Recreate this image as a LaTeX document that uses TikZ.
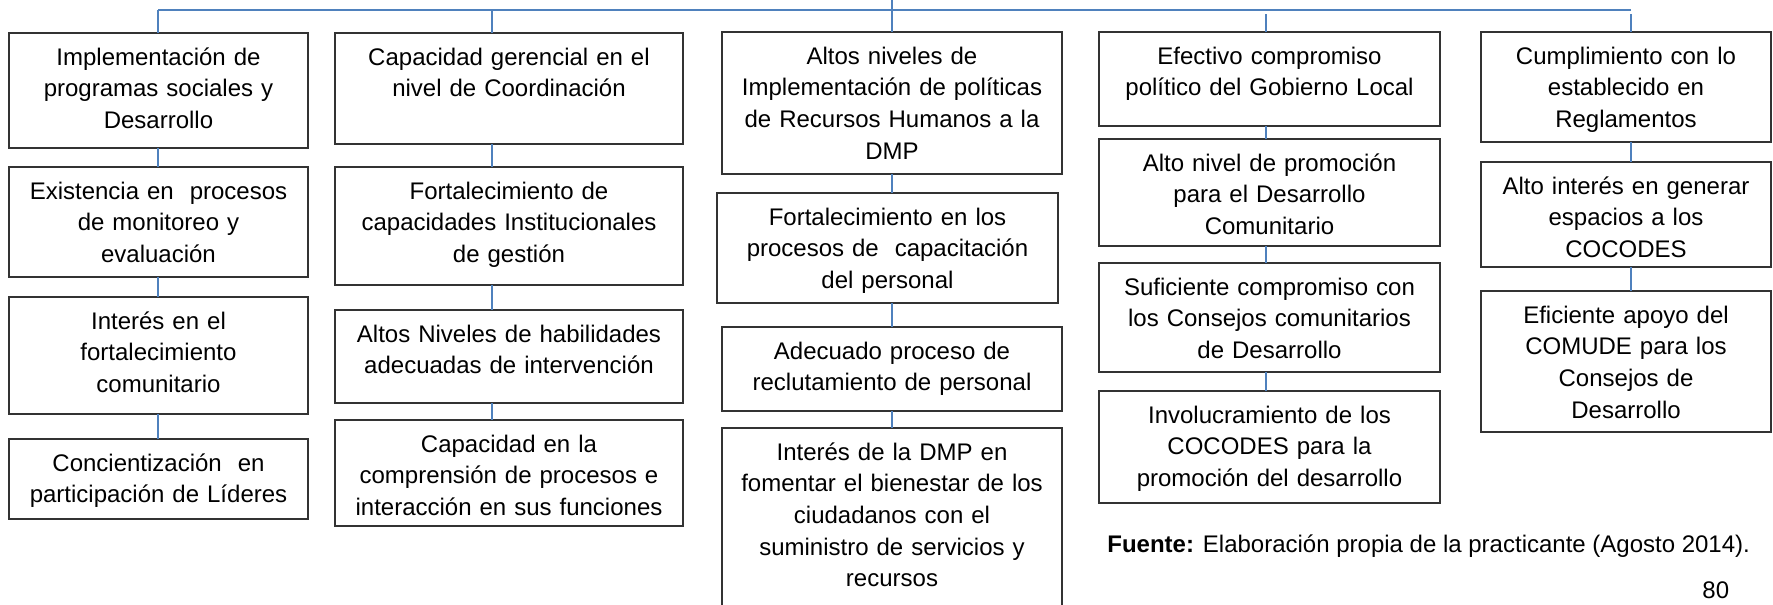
\documentclass[tikz,border=0pt]{standalone}
\usepackage{fontspec}
\setmainfont{Liberation Sans}
\usetikzlibrary{positioning}
\definecolor{linkblue}{RGB}{79,129,189}

\begin{document}
\begin{tikzpicture}[
    x=0.5pt, y=-0.5pt,
    node distance=10pt,
    cause/.style 2 args={draw=black!80, line width=0.8pt, anchor=north, inner xsep=0pt, inner ysep=0pt, outer sep=0pt,
        align=center, text width=#1, text height=16pt, text depth=#2, font=\fontsize{12}{15.85}\selectfont},
    link/.style={draw=linkblue, line width=0.8pt},
    note/.style={anchor=base west, inner sep=0pt, font=\fontsize{12}{15.85}\selectfont}
]
   \useasboundingbox (0,0) rectangle (1773,605);

   % Column 1
   \node[cause={149.5pt}{41.5pt}] (c1a) at (158.5,33) {Implementación de\\programas sociales y\\Desarrollo};
   \node[cause={149.5pt}{39pt}, below=9.5pt of c1a] (c1b) {Existencia en\ \ procesos\\de monitoreo y\\evaluación};
   \node[cause={149.5pt}{42.5pt}, below=10pt of c1b] (c1c) {Interés en el\\fortalecimiento\\comunitario};
   \node[cause={149.5pt}{24pt}, below=12.5pt of c1c] (c1d) {Concientización\ \ en\\participación de Líderes};

   % Column 2
   \node[cause={174pt}{39.5pt}] (c2a) at (509,33) {Capacidad gerencial en el\\nivel de Coordinación};
   \node[cause={174pt}{43pt}, below=11.5pt of c2a] (c2b) {Fortalecimiento de\\capacidades Institucionales\\de gestión};
   \node[cause={174pt}{30.5pt}, below=12.5pt of c2b] (c2c) {Altos Niveles de habilidades\\adecuadas de intervención};
   \node[cause={174pt}{37pt}, below=8.5pt of c2c] (c2d) {Capacidad en la\\comprensión de procesos e\\interacción en sus funciones};

   % Column 3
   \node[cause={170pt}{55pt}] (c3a) at (892,32) {Altos niveles de\\Implementación de políticas\\de Recursos Humanos a la\\DMP};
   \node[cause={170.5pt}{39pt}, below=9.5pt of c3a, xshift=-2.25pt] (c3b) {Fortalecimiento en los\\procesos de\ \ capacitación\\del personal};
   \node[cause={170pt}{26pt}, below=12pt of c3b, xshift=2.25pt] (c3c) {Adecuado proceso de\\reclutamiento de personal};
   \node[cause={170pt}{77.5pt}, below=8.5pt of c3c] (c3d) {Interés de la DMP en\\fomentar el bienestar de los\\ciudadanos con el\\suministro de servicios y\\recursos};

   % Column 4
   \node[cause={170.5pt}{31pt}] (c4a) at (1269.5,32) {Efectivo compromiso\\político del Gobierno Local};
   \node[cause={170.5pt}{37.5pt}, below=6.5pt of c4a] (c4b) {Alto nivel de promoción\\para el Desarrollo\\Comunitario};
   \node[cause={170.5pt}{38.5pt}, below=8.5pt of c4b] (c4c) {Suficiente compromiso con\\los Consejos comunitarios\\de Desarrollo};
   \node[cause={170.5pt}{40pt}, below=9.5pt of c4c] (c4d) {Involucramiento de los\\COCODES para la\\promoción del desarrollo};

   % Column 5
   \node[cause={145pt}{39pt}] (c5a) at (1626,32) {Cumplimiento con lo\\establecido en\\Reglamentos};
   \node[cause={145pt}{36.5pt}, below=10pt of c5a] (c5b) {Alto interés en generar\\espacios a los\\COCODES};
   \node[cause={145pt}{54.5pt}, below=12pt of c5b] (c5c) {Eficiente apoyo del\\COMUDE para los\\Consejos de\\Desarrollo};

   % Source and page number
   \node[note] (src) at (1107,552) {\textbf{Fuente:} Elaboración propia de la practicante (Agosto 2014).};
   \node[note] (page) at (1702,598) {80};

   % Bus
   \coordinate (top) at (892,0);
   \coordinate (b1) at (158,10);
   \coordinate (b2) at (492,10);
   \coordinate (b4) at (1266,14);
   \coordinate (b5) at (1631,14);
   \coordinate (busend) at (1631,10);
   \draw[link] (b1) -- (busend);

   % Connectors
   \path[link]
   (top) edge (c3a.north)
   (b1) edge (b1 |- c1a.north)
   (b2) edge (b2 |- c2a.north)
   (b4) edge (b4 |- c4a.north)
   (b5) edge (b5 |- c5a.north)

   (c1a.south -| b1) edge (c1b.north -| b1)
   (c1b.south -| b1) edge (c1c.north -| b1)
   (c1c.south -| b1) edge (c1d.north -| b1)

   (c2a.south -| b2) edge (c2b.north -| b2)
   (c2b.south -| b2) edge (c2c.north -| b2)
   (c2c.south -| b2) edge (c2d.north -| b2)

   (c3a.south -| top) edge (c3b.north -| top)
   (c3b.south -| top) edge (c3c.north -| top)
   (c3c.south -| top) edge (c3d.north -| top)

   (c4a.south -| b4) edge (c4b.north -| b4)
   (c4b.south -| b4) edge (c4c.north -| b4)
   (c4c.south -| b4) edge (c4d.north -| b4)

   (c5a.south -| b5) edge (c5b.north -| b5)
   (c5b.south -| b5) edge (c5c.north -| b5);
\end{tikzpicture}
\end{document}
